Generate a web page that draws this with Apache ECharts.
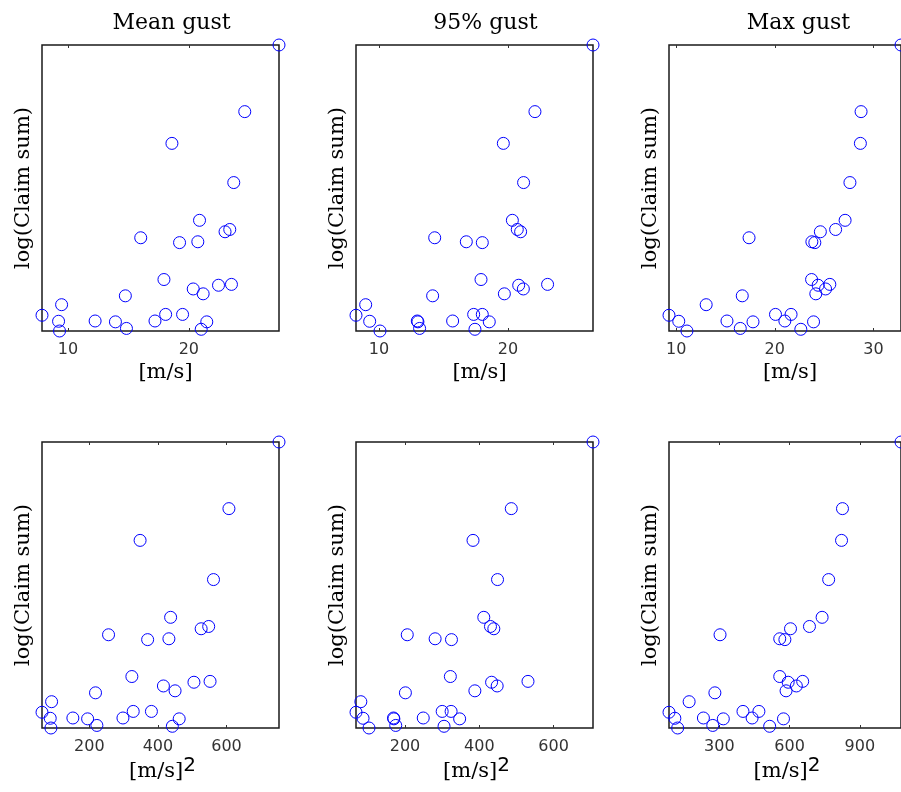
<!DOCTYPE html>
<html><head><meta charset="utf-8">
<script src="https://cdn.jsdelivr.net/npm/echarts@6/dist/echarts.min.js"></script>
<style>html,body{margin:0;padding:0;background:#fff}#c{width:901px;height:792px}</style>
</head><body><div id="c"></div>
<script>
// Titles / labels
const panelTitles = ['Mean gust', '95% gust', 'Max gust'];
const yName = 'log(Claim sum)';
// y: log(Claim sum) in relative units (axis unlabeled in the original)
const logClaim = [10.00, 7.67, 6.56, 5.19, 3.87, 3.55, 3.47, 3.26, 3.09, 3.12, 1.80, 1.60, 1.63, 1.47, 1.30, 1.23, 0.92, 0.55, 0.58, 0.58, 0.34, 0.35, 0.32, 0.35, 0.32, 0.09, 0.06, 0.00];
// top row: [m/s]
const meanGust = [27.45, 24.62, 18.60, 23.71, 20.88, 23.38, 22.99, 16.02, 19.23, 20.74, 17.94, 22.45, 23.52, 20.36, 21.18, 14.75, 9.48, 7.86, 18.08, 19.48, 9.23, 12.25, 13.93, 17.20, 21.48, 14.84, 21.02, 9.31];
const gust95 = [26.59, 22.09, 19.64, 21.21, 20.34, 20.72, 20.98, 14.32, 18.01, 16.77, 17.91, 20.83, 23.07, 21.19, 19.72, 14.16, 8.97, 8.22, 17.34, 18.01, 9.28, 12.97, 13.02, 15.71, 18.55, 13.15, 17.44, 10.08];
const maxGust = [32.80, 28.75, 28.68, 27.62, 27.13, 26.17, 24.62, 17.39, 24.06, 23.76, 23.73, 24.39, 25.58, 25.15, 24.16, 16.70, 13.04, 9.27, 20.07, 21.65, 10.26, 15.15, 17.79, 21.02, 23.93, 16.50, 22.64, 11.09];
// bottom row: [m/s]^2
const meanGustSq = [753, 607, 348, 562, 437, 548, 526, 256, 370, 432, 324, 505, 552, 416, 450, 218, 90, 62, 328, 381, 86, 152, 195, 298, 462, 222, 442, 88];
const gust95Sq = [706, 486, 383, 449, 412, 430, 439, 206, 325, 281, 322, 433, 531, 448, 388, 201, 81, 68, 300, 324, 87, 169, 170, 249, 347, 175, 305, 103];
const maxGustSq = [1076, 826, 822, 767, 739, 685, 604, 303, 580, 558, 558, 594, 656, 629, 585, 281, 171, 85, 401, 469, 110, 232, 317, 440, 574, 272, 515, 122];
// tick labels
const ticksTop = [[10, 20], [10, 20], [10, 20, 30]];
const ticksBottom = [[200, 400, 600], [200, 400, 600], [300, 600, 900]];

const xSets = [meanGust, gust95, maxGust, meanGustSq, gust95Sq, maxGustSq];
const tickSets = ticksTop.concat(ticksBottom);

const lefts = [42, 356, 669];
const tops = [45, 442];
const W = 237, H = 286;

const grids = [], xAxes = [], yAxes = [], series = [], titles = [];
const yMin = Math.min(...logClaim), yMax = Math.max(...logClaim);
for (let i = 0; i < 6; i++) {
  const col = i % 3, row = Math.floor(i / 3);
  const xs = xSets[i];
  const xMin = Math.min(...xs), xMax = Math.max(...xs);
  grids.push({left: lefts[col], top: tops[row], width: W, height: H, show: true,
    borderColor: '#1a1a1a', borderWidth: 1.5, backgroundColor: 'transparent'});
  const tickCommon = {show: true, inside: true, length: 3, customValues: tickSets[i],
    lineStyle: {color: '#333', width: 1}};
  xAxes.push({
    type: 'value', gridIndex: i, position: 'bottom', min: xMin, max: xMax,
    axisLine: {show: false}, splitLine: {show: false},
    axisTick: tickCommon,
    axisLabel: {show: true, customValues: tickSets[i], margin: 11,
      fontFamily: 'DejaVu Sans', fontSize: 16, color: '#333'},
    name: row === 0 ? '[m/s]' : '{b|[m/s]}{s|2}',
    nameLocation: 'middle', nameGap: row === 0 ? 31 : 27,
    nameTextStyle: {fontFamily: 'DejaVu Serif', fontSize: 21, color: '#000',
      padding: row === 0 ? [0, 0, 0, 10] : [0, 0, 0, 4],
      rich: {
        b: {fontFamily: 'DejaVu Serif', fontSize: 21, color: '#000', lineHeight: 26, verticalAlign: 'bottom'},
        s: {fontFamily: 'DejaVu Sans', fontSize: 20, color: '#000', lineHeight: 20, verticalAlign: 'top'}
      }}
  });
  xAxes.push({
    type: 'value', gridIndex: i, position: 'top', min: xMin, max: xMax,
    axisLine: {show: false}, splitLine: {show: false},
    axisTick: tickCommon,
    axisLabel: {show: false, customValues: tickSets[i]}
  });
  yAxes.push({
    type: 'value', gridIndex: i, min: yMin, max: yMax,
    axisLine: {show: false}, axisTick: {show: false}, axisLabel: {show: false}, splitLine: {show: false},
    name: yName, nameLocation: 'middle', nameGap: 8,
    nameTextStyle: {fontFamily: 'DejaVu Serif', fontSize: 21, color: '#000'}
  });
  series.push({
    type: 'scatter', xAxisIndex: 2 * i, yAxisIndex: i, clip: false,
    symbol: 'circle', symbolSize: 12,
    itemStyle: {color: 'rgba(0,0,0,0)', borderColor: '#0000ff', borderWidth: 1, opacity: 1},
    emphasis: {disabled: true},
    data: xs.map((x, k) => [x, logClaim[k]])
  });
}
for (let c = 0; c < 3; c++) {
  titles.push({text: panelTitles[c], left: lefts[c] + W / 2 + 6, top: 7, textAlign: 'center',
    textStyle: {fontFamily: 'DejaVu Serif', fontSize: 22, fontWeight: 'normal', color: '#000'}});
}
const chart = echarts.init(document.getElementById('c'), null, {renderer: 'canvas'});
chart.setOption({animation: false, backgroundColor: '#fff', title: titles,
  grid: grids, xAxis: xAxes, yAxis: yAxes, series: series});
</script></body></html>
